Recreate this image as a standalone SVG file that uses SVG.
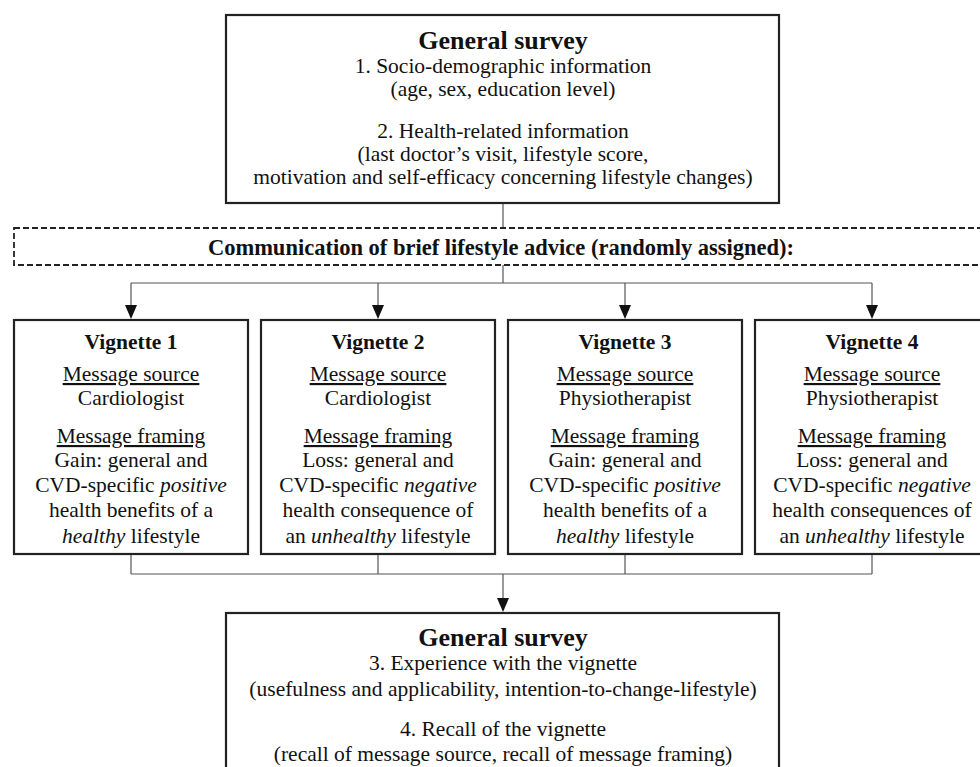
<svg xmlns="http://www.w3.org/2000/svg" width="980" height="767" viewBox="0 0 980 767">
<style>
text{font-family:"Liberation Serif","Times New Roman",serif;fill:#111;text-anchor:middle;font-size:21.5px}
.t{font-weight:bold;font-size:26px}
.vt{font-weight:bold;font-size:21.5px}
.b{font-weight:bold;font-size:22.5px}
.u{text-decoration:underline}
.i{font-style:italic}
.box{fill:#fff;stroke:#222;stroke-width:2.2}
.dash{fill:#fff;stroke:#222;stroke-width:1.8;stroke-dasharray:6 3}
.c{fill:none;stroke:#555;stroke-width:1.2}
</style>
<defs>
<marker id="ah" markerWidth="12" markerHeight="14" refX="6" refY="14" orient="auto" markerUnits="userSpaceOnUse" viewBox="0 0 12 14">
<path d="M0,0 L12,0 L6,14 Z" fill="#111"/>
</marker>
</defs>
<g id="connectors">
<line class="c" x1="503" y1="203" x2="503" y2="228"/>
<line class="c" x1="503" y1="265" x2="503" y2="283"/>
<line class="c" x1="131" y1="283" x2="872" y2="283"/>
<path class="c" d="M131,283 V306"/>
<path class="c" d="M378,283 V306"/>
<path class="c" d="M625,283 V306"/>
<path class="c" d="M872,283 V306"/>
<path d="M125,305 L137,305 L131,319 Z" fill="#111"/>
<path d="M372,305 L384,305 L378,319 Z" fill="#111"/>
<path d="M619,305 L631,305 L625,319 Z" fill="#111"/>
<path d="M866,305 L878,305 L872,319 Z" fill="#111"/>
<line class="c" x1="131" y1="554" x2="131" y2="574"/>
<line class="c" x1="378" y1="554" x2="378" y2="574"/>
<line class="c" x1="625" y1="554" x2="625" y2="574"/>
<line class="c" x1="872" y1="554" x2="872" y2="574"/>
<line class="c" x1="131" y1="574" x2="872" y2="574"/>
<line class="c" x1="503" y1="574" x2="503" y2="599"/>
<path d="M497,598 L509,598 L503,612 Z" fill="#111"/>
</g>
<g id="survey1">
<rect class="box" x="226" y="15" width="553" height="188"/>
<text class="t" x="503" y="49">General survey</text>
<text x="503" y="73">1. Socio-demographic information</text>
<text x="503" y="96">(age, sex, education level)</text>
<text x="503" y="138">2. Health-related information</text>
<text x="503" y="161">(last doctor’s visit, lifestyle score,</text>
<text x="503" y="184">motivation and self-efficacy concerning lifestyle changes)</text>
</g>
<g id="communication">
<rect class="dash" x="14" y="228" width="990" height="37"/>
<text class="b" x="501" y="255">Communication of brief lifestyle advice (randomly assigned):</text>
</g>
<g id="vignette1">
<rect class="box" x="14" y="320" width="234" height="234"/>
<text class="vt" x="131" y="349">Vignette 1</text>
<text class="u" x="131" y="381">Message source</text>
<text x="131" y="405">Cardiologist</text>
<text class="u" x="131" y="443">Message framing</text>
<text x="131" y="467">Gain: general and</text>
<text x="131" y="492">CVD-specific <tspan class="i">positive</tspan></text>
<text x="131" y="517">health benefits of a</text>
<text x="131" y="543"><tspan class="i">healthy</tspan> lifestyle</text>
</g>
<g id="vignette2">
<rect class="box" x="261" y="320" width="234" height="234"/>
<text class="vt" x="378" y="349">Vignette 2</text>
<text class="u" x="378" y="381">Message source</text>
<text x="378" y="405">Cardiologist</text>
<text class="u" x="378" y="443">Message framing</text>
<text x="378" y="467">Loss: general and</text>
<text x="378" y="492">CVD-specific <tspan class="i">negative</tspan></text>
<text x="378" y="517">health consequence of</text>
<text x="378" y="543">an <tspan class="i">unhealthy</tspan> lifestyle</text>
</g>
<g id="vignette3">
<rect class="box" x="508" y="320" width="234" height="234"/>
<text class="vt" x="625" y="349">Vignette 3</text>
<text class="u" x="625" y="381">Message source</text>
<text x="625" y="405">Physiotherapist</text>
<text class="u" x="625" y="443">Message framing</text>
<text x="625" y="467">Gain: general and</text>
<text x="625" y="492">CVD-specific <tspan class="i">positive</tspan></text>
<text x="625" y="517">health benefits of a</text>
<text x="625" y="543"><tspan class="i">healthy</tspan> lifestyle</text>
</g>
<g id="vignette4">
<rect class="box" x="755" y="320" width="240" height="234"/>
<text class="vt" x="872" y="349">Vignette 4</text>
<text class="u" x="872" y="381">Message source</text>
<text x="872" y="405">Physiotherapist</text>
<text class="u" x="872" y="443">Message framing</text>
<text x="872" y="467">Loss: general and</text>
<text x="872" y="492">CVD-specific <tspan class="i">negative</tspan></text>
<text x="872" y="517">health consequences of</text>
<text x="872" y="543">an <tspan class="i">unhealthy</tspan> lifestyle</text>
</g>
<g id="survey2">
<rect class="box" x="226" y="613" width="553" height="170"/>
<text class="t" x="503" y="646">General survey</text>
<text x="503" y="670">3. Experience with the vignette</text>
<text x="503" y="696">(usefulness and applicability, intention-to-change-lifestyle)</text>
<text x="503" y="736">4. Recall of the vignette</text>
<text x="503" y="761">(recall of message source, recall of message framing)</text>
</g>
</svg>
